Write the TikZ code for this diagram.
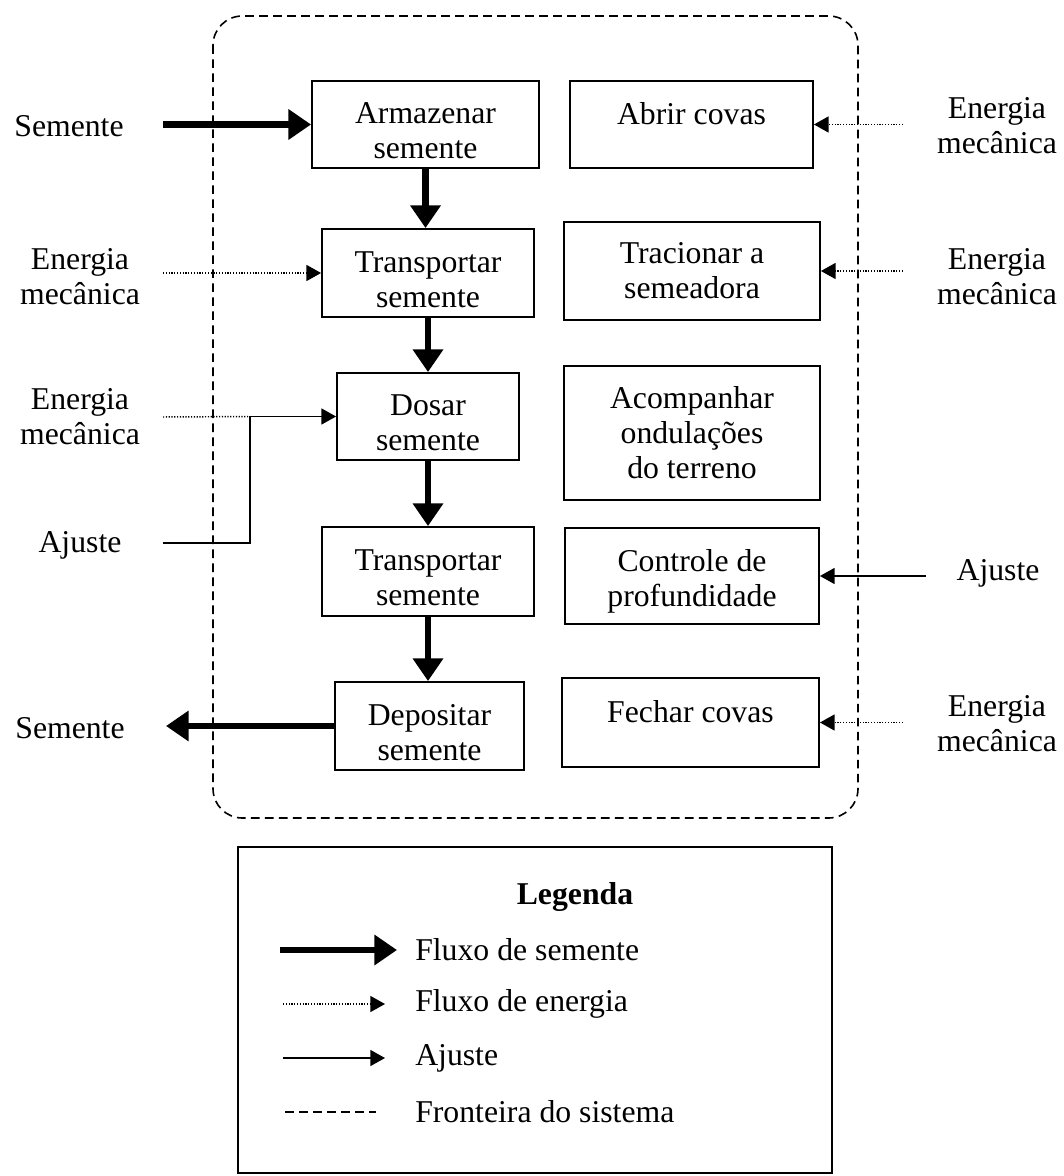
\documentclass[tikz,border=0pt]{standalone}
\usepackage{fontspec}
\setmainfont{Liberation Serif}
\usetikzlibrary{arrows.meta}
\newcommand{\dn}{\rule{0pt}{25pt}}
\begin{document}
\begin{tikzpicture}[x=0.75pt,y=-0.75pt,
  every node/.style={font=\fontsize{23.8pt}{26.25pt}\selectfont, align=center, inner sep=0pt},
  box/.style={draw, line width=1.4pt},
  one/.style={text height=10pt, text depth=10pt},
  seed/.style={line width=5.2pt, -{Triangle[length=17pt,width=22pt]}},
  energy/.style={line width=1.1pt, dash pattern=on 0.9pt off 1.2pt, -{Triangle[length=11pt,width=12pt]}},
  energyline/.style={line width=1.1pt, dash pattern=on 0.9pt off 1.2pt},
  adj/.style={line width=1.1pt, -{Triangle[length=11pt,width=12pt]}},
  boundary/.style={line width=1.2pt, dash pattern=on 6.5pt off 4pt},
]
\useasboundingbox (0,0) rectangle (1063,1176);

% system boundary
\draw[boundary, rounded corners=22pt] (213,16) rectangle (858,818);

% left column
\node[box, minimum width=170.25pt, minimum height=65.25pt] (arm) at (425.5,124.5) {\dn Armazenar\\semente};
\node[box, minimum width=159pt, minimum height=66pt] (tr1) at (428,273) {\dn Transportar\\semente};
\node[box, minimum width=136.5pt, minimum height=65.25pt] (dos) at (428,416.5) {\dn Dosar\\semente};
\node[box, minimum width=159pt, minimum height=66.75pt] (tr2) at (428,571.5) {\dn Transportar\\semente};
\node[box, minimum width=141.75pt, minimum height=66pt] (dep) at (429.5,726) {\dn Depositar\\semente};

% right column
\node[box, one, minimum width=182.25pt, minimum height=65.25pt] (abr) at (691.5,124.5) {Abrir covas};
\node[box, minimum width=192pt, minimum height=73.5pt] (tra) at (692,271) {Tracionar a\\semeadora};
\node[box, minimum width=192pt, minimum height=100.5pt] (aco) at (692,433) {Acompanhar\\ondulações\\do terreno};
\node[box, minimum width=190.5pt, minimum height=72pt] (ctl) at (692,576) {\dn Controle de\\profundidade};
\node[box, one, minimum width=192.75pt, minimum height=66.75pt] (fec) at (690.5,722.5) {Fechar covas};

% left labels
\node (lsin) at (69,126) {Semente};
\node (le1) at (80,277) {Energia\\mecânica};
\node (le2) at (80,417) {Energia\\mecânica};
\node (laj) at (80,545) {Ajuste};
\node (lsout) at (70,728) {Semente};

% right labels
\node (re1) at (997,126) {Energia\\mecânica};
\node (re2) at (997,277) {Energia\\mecânica};
\node (raj) at (998,573) {Ajuste};
\node (re3) at (997,724) {Energia\\mecânica};

% connector ends
\coordinate (sin) at (163,124.5);
\coordinate (sout) at (166,726);
\coordinate (e1) at (163,273);
\coordinate (e2) at (163,417);
\coordinate (aj) at (163,543);
\coordinate (jn) at (250,416.5);
\coordinate (er1) at (903,124.5);
\coordinate (er2) at (903,271);
\coordinate (ajr) at (926,576);
\coordinate (er3) at (903,722.5);

% seed flow
\draw[seed] (sin) -- (arm.west);
\draw[seed] (arm.south) -- (arm.south |- tr1.north);
\draw[seed] (tr1.south) -- (tr1.south |- dos.north);
\draw[seed] (dos.south) -- (dos.south |- tr2.north);
\draw[seed] (tr2.south) -- (tr2.south |- dep.north);
\draw[seed] (dep.west) -- (sout);

% energy flows
\draw[energy] (e1) -- (tr1.west);
\draw[energyline] (e2) -- (jn);
\draw[adj] (aj) -| (jn) -- (dos.west);
\draw[energy] (er1) -- (abr.east);
\draw[energy] (er2) -- (tra.east);
\draw[adj] (ajr) -- (ctl.east);
\draw[energy] (er3) -- (fec.east);

% legend
\node[draw, line width=1.4pt, minimum width=445.5pt, minimum height=244.5pt] (leg) at (535,1010) {};
\node[font=\fontsize{23.8pt}{26.25pt}\selectfont\bfseries] (legt) at (575,897) {Legenda};
\coordinate (l1a) at (280,950); \coordinate (l1b) at (397,950);
\coordinate (l2a) at (283,1004); \coordinate (l2b) at (385,1004);
\coordinate (l3a) at (283,1058); \coordinate (l3b) at (385,1058);
\coordinate (l4a) at (285,1112); \coordinate (l4b) at (376,1112);
\draw[seed] (l1a) -- (l1b);
\draw[energy] (l2a) -- (l2b);
\draw[adj] (l3a) -- (l3b);
\draw[boundary] (l4a) -- (l4b);
\node[anchor=west] (t1) at (415,950) {Fluxo de semente};
\node[anchor=west] (t2) at (415,1004) {Fluxo de energia};
\node[anchor=west] (t3) at (415,1058) {Ajuste};
\node[anchor=west] (t4) at (415,1112) {Fronteira do sistema};
\end{tikzpicture}
\end{document}
